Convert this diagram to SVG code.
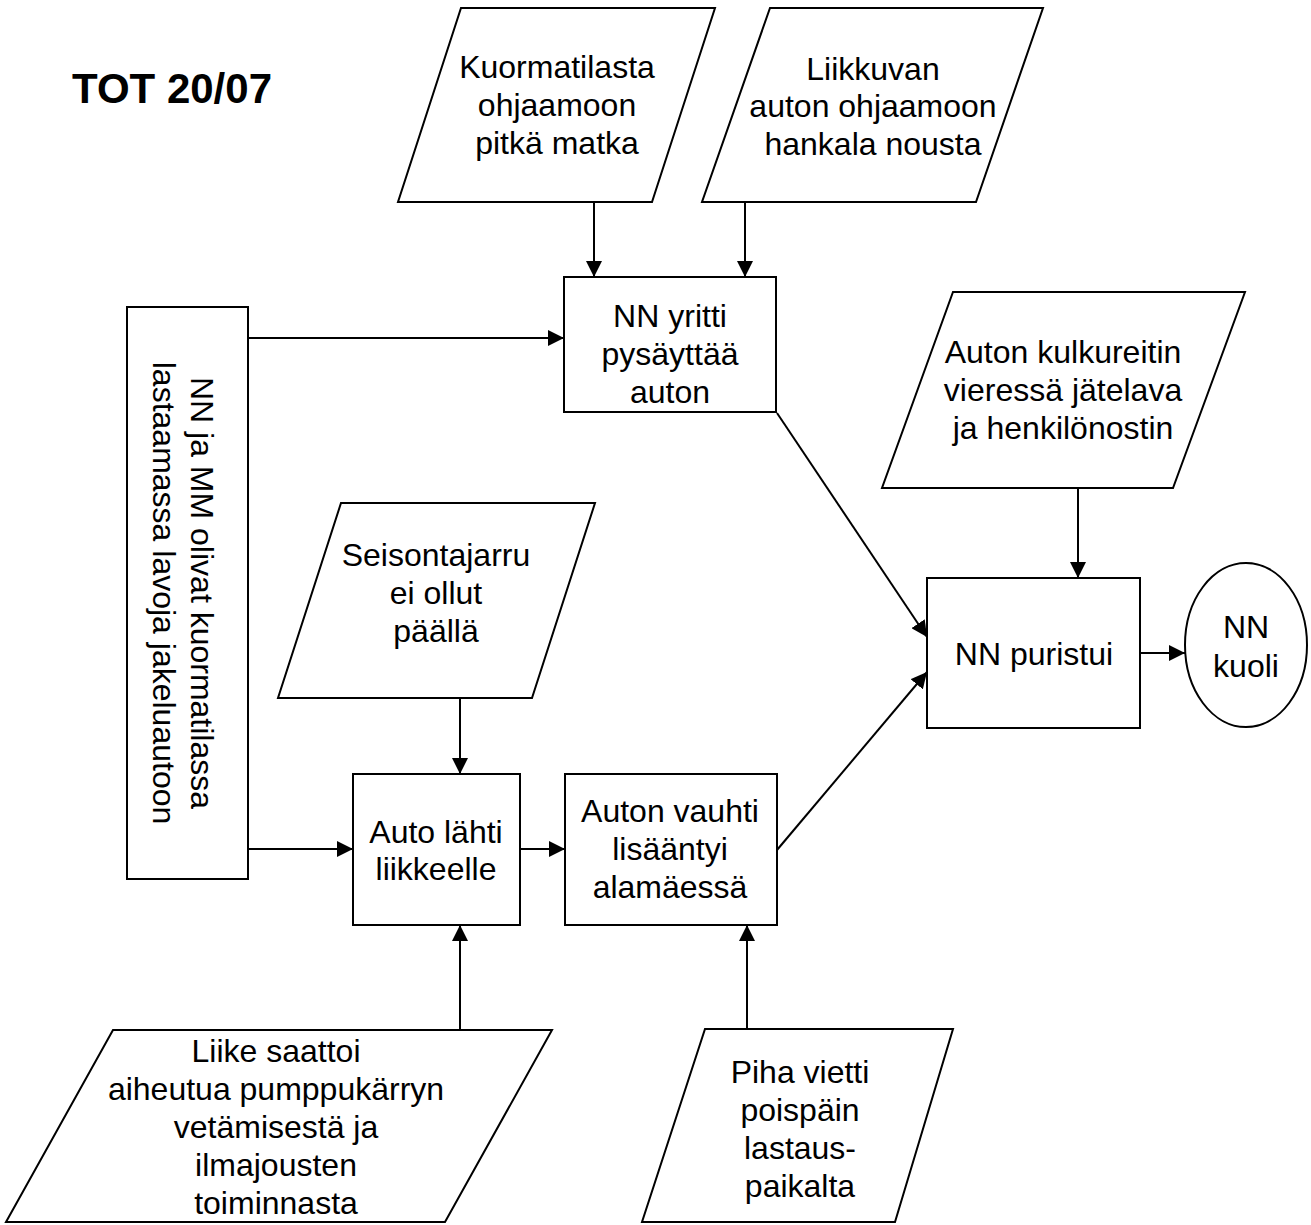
<svg xmlns="http://www.w3.org/2000/svg" width="1311" height="1225" viewBox="0 0 1311 1225">
<style>
.shape{fill:#fff;stroke:#000;stroke-width:2}
.t{font-family:"Liberation Sans",Arial,Helvetica,sans-serif;font-size:32px;fill:#000;text-anchor:middle}
.title{font-family:"Liberation Sans",Arial,Helvetica,sans-serif;font-size:42px;font-weight:bold;fill:#000}
.c{stroke:#000;stroke-width:2;fill:none;marker-end:url(#ah)}
</style>
<defs>
<marker id="ah" markerUnits="userSpaceOnUse" markerWidth="16" markerHeight="16" refX="16" refY="8" orient="auto">
<path d="M0,0 L16,8 L0,16 Z" fill="#000"/>
</marker>
</defs>
<rect width="1311" height="1225" fill="#fff"/>
<text class="title" x="72" y="103">TOT 20/07</text>

<g id="n-kuormatila">
<polygon class="shape" points="461,8 715,8 652,202 398,202"/>
<text class="t" x="557" y="78">Kuormatilasta</text>
<text class="t" x="557" y="116">ohjaamoon</text>
<text class="t" x="557" y="154">pitkä matka</text>
</g>
<g id="n-liikkuvan">
<polygon class="shape" points="770,8 1043,8 976,202 702,202"/>
<text class="t" x="873" y="80">Liikkuvan</text>
<text class="t" x="873" y="117">auton ohjaamoon</text>
<text class="t" x="873" y="155">hankala nousta</text>
</g>
<g id="n-yritti">
<rect class="shape" x="564" y="277" width="212" height="135"/>
<text class="t" x="670" y="327">NN yritti</text>
<text class="t" x="670" y="365">pysäyttää</text>
<text class="t" x="670" y="403">auton</text>
</g>
<g id="n-lastaamassa">
<rect class="shape" x="127" y="307" width="121" height="572"/>
<text class="t" transform="translate(191,593) rotate(90)">NN ja MM olivat kuormatilassa</text>
<text class="t" transform="translate(153,593) rotate(90)">lastaamassa lavoja jakeluautoon</text>
</g>
<g id="n-seisontajarru">
<polygon class="shape" points="341,503 595,503 532,698 278,698"/>
<text class="t" x="436" y="566">Seisontajarru</text>
<text class="t" x="436" y="604">ei ollut</text>
<text class="t" x="436" y="642">päällä</text>
</g>
<g id="n-lahti">
<rect class="shape" x="353" y="774" width="167" height="151"/>
<text class="t" x="436" y="843">Auto lähti</text>
<text class="t" x="436" y="880">liikkeelle</text>
</g>
<g id="n-vauhti">
<rect class="shape" x="565" y="774" width="212" height="151"/>
<text class="t" x="670" y="822">Auton vauhti</text>
<text class="t" x="670" y="860">lisääntyi</text>
<text class="t" x="670" y="898">alamäessä</text>
</g>
<g id="n-kulkureitti">
<polygon class="shape" points="953,292 1245,292 1173,488 882,488"/>
<text class="t" x="1063" y="363">Auton kulkureitin</text>
<text class="t" x="1063" y="401">vieressä jätelava</text>
<text class="t" x="1063" y="439">ja henkilönostin</text>
</g>
<g id="n-puristui">
<rect class="shape" x="927" y="578" width="213" height="150"/>
<text class="t" x="1034" y="665">NN puristui</text>
</g>
<g id="n-kuoli">
<ellipse class="shape" cx="1246" cy="645" rx="61" ry="82"/>
<text class="t" x="1246" y="638">NN</text>
<text class="t" x="1246" y="677">kuoli</text>
</g>
<g id="n-liike">
<polygon class="shape" points="113,1030 552,1030 445,1222 6,1222"/>
<text class="t" x="276" y="1062">Liike saattoi</text>
<text class="t" x="276" y="1100">aiheutua pumppukärryn</text>
<text class="t" x="276" y="1138">vetämisestä ja</text>
<text class="t" x="276" y="1176">ilmajousten</text>
<text class="t" x="276" y="1214">toiminnasta</text>
</g>
<g id="n-piha">
<polygon class="shape" points="705,1029 953,1029 895,1222 642,1222"/>
<text class="t" x="800" y="1083">Piha vietti</text>
<text class="t" x="800" y="1121">poispäin</text>
<text class="t" x="800" y="1159">lastaus-</text>
<text class="t" x="800" y="1197">paikalta</text>
</g>

<g id="connectors">
<line class="c" x1="594" y1="202" x2="594" y2="277"/>
<line class="c" x1="745" y1="202" x2="745" y2="277"/>
<line class="c" x1="248" y1="338" x2="564" y2="338"/>
<line class="c" x1="248" y1="849" x2="353" y2="849"/>
<line class="c" x1="460" y1="698" x2="460" y2="774"/>
<line class="c" x1="520" y1="849" x2="565" y2="849"/>
<line class="c" x1="460" y1="1030" x2="460" y2="925"/>
<line class="c" x1="747" y1="1029" x2="747" y2="925"/>
<line class="c" x1="777" y1="413" x2="927" y2="637"/>
<line class="c" x1="777" y1="850" x2="927" y2="672"/>
<line class="c" x1="1078" y1="488" x2="1078" y2="578"/>
<line class="c" x1="1140" y1="653" x2="1185" y2="653"/>
</g>
</svg>
